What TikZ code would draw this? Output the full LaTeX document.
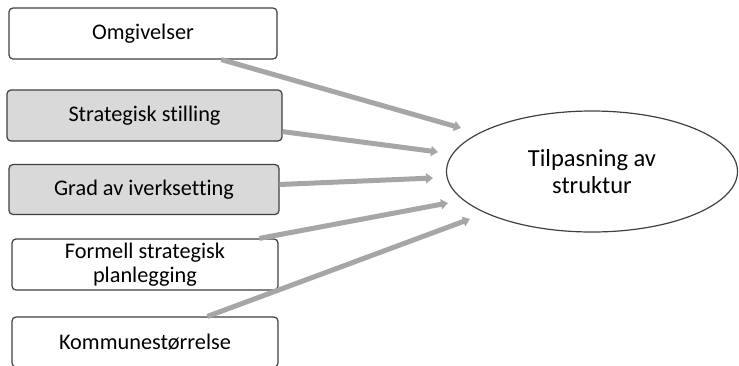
\documentclass[tikz,border=0pt]{standalone}
\usepackage{fontspec}
\setmainfont{Carlito}[Ligatures=NoCommon]
\usetikzlibrary{calc,arrows.meta,shapes.geometric}
\definecolor{boxline}{HTML}{404040}
\definecolor{boxgray}{HTML}{D9D9D9}
\definecolor{arrowgray}{HTML}{A6A6A6}
\tikzset{
  box/.style={draw=boxline, line width=1.2pt, rounded corners=4pt, fill=white,
    font=\fontsize{22.3}{24}\selectfont, align=center, inner sep=0pt},
  graybox/.style={box, fill=boxgray},
  conn/.style={draw=arrowgray, line width=5pt, -{Triangle[length=7pt,width=10pt]}, shorten <=0pt},
}
\begin{document}
\begin{tikzpicture}[x=1pt,y=-1pt]
\useasboundingbox (0,0) rectangle (739,365);
\begin{scope}
\clip (0,0) rectangle (739,365);
\node[box, minimum width=268pt, minimum height=51pt] (om) at (143,33.5) {Omgivelser};
\node[graybox, minimum width=275pt, minimum height=51pt] (st) at (144.5,115.5) {Strategisk stilling};
\node[graybox, minimum width=270pt, minimum height=50pt] (gr) at (144,189.5) {Grad av iverksetting};
\node[box, minimum width=266pt, minimum height=51pt] (fo) at (145,264.5) {Formell strategisk\\planlegging};
\node[box, minimum width=266pt, minimum height=50pt] (ko) at (145,342) {Kommunestørrelse};
\node[draw=boxline, line width=1.2pt, ellipse, minimum width=291pt, minimum height=121pt, inner sep=0pt,
  align=center, font=\fontsize{24.5}{27}\selectfont] (ti) at (592,171.5) {Tilpasning av\\struktur};
\coordinate (e1) at (461,128);
\coordinate (e2) at (438,152);
\coordinate (e3) at (433,178);
\coordinate (e4) at (448,203);
\coordinate (e5) at (470,219);
\draw[conn] ($(om.south west)+(213,0)$) -- (e1);
\draw[conn] ($(st.south east)+(0,-10)$) -- (e2);
\draw[conn] ($(gr.east)+(0,-5)$) -- (e3);
\draw[conn] ($(fo.north west)+(248,0)$) -- (e4);
\draw[conn] ($(ko.north west)+(196,0)$) -- (e5);
\end{scope}
\end{tikzpicture}
\end{document}
